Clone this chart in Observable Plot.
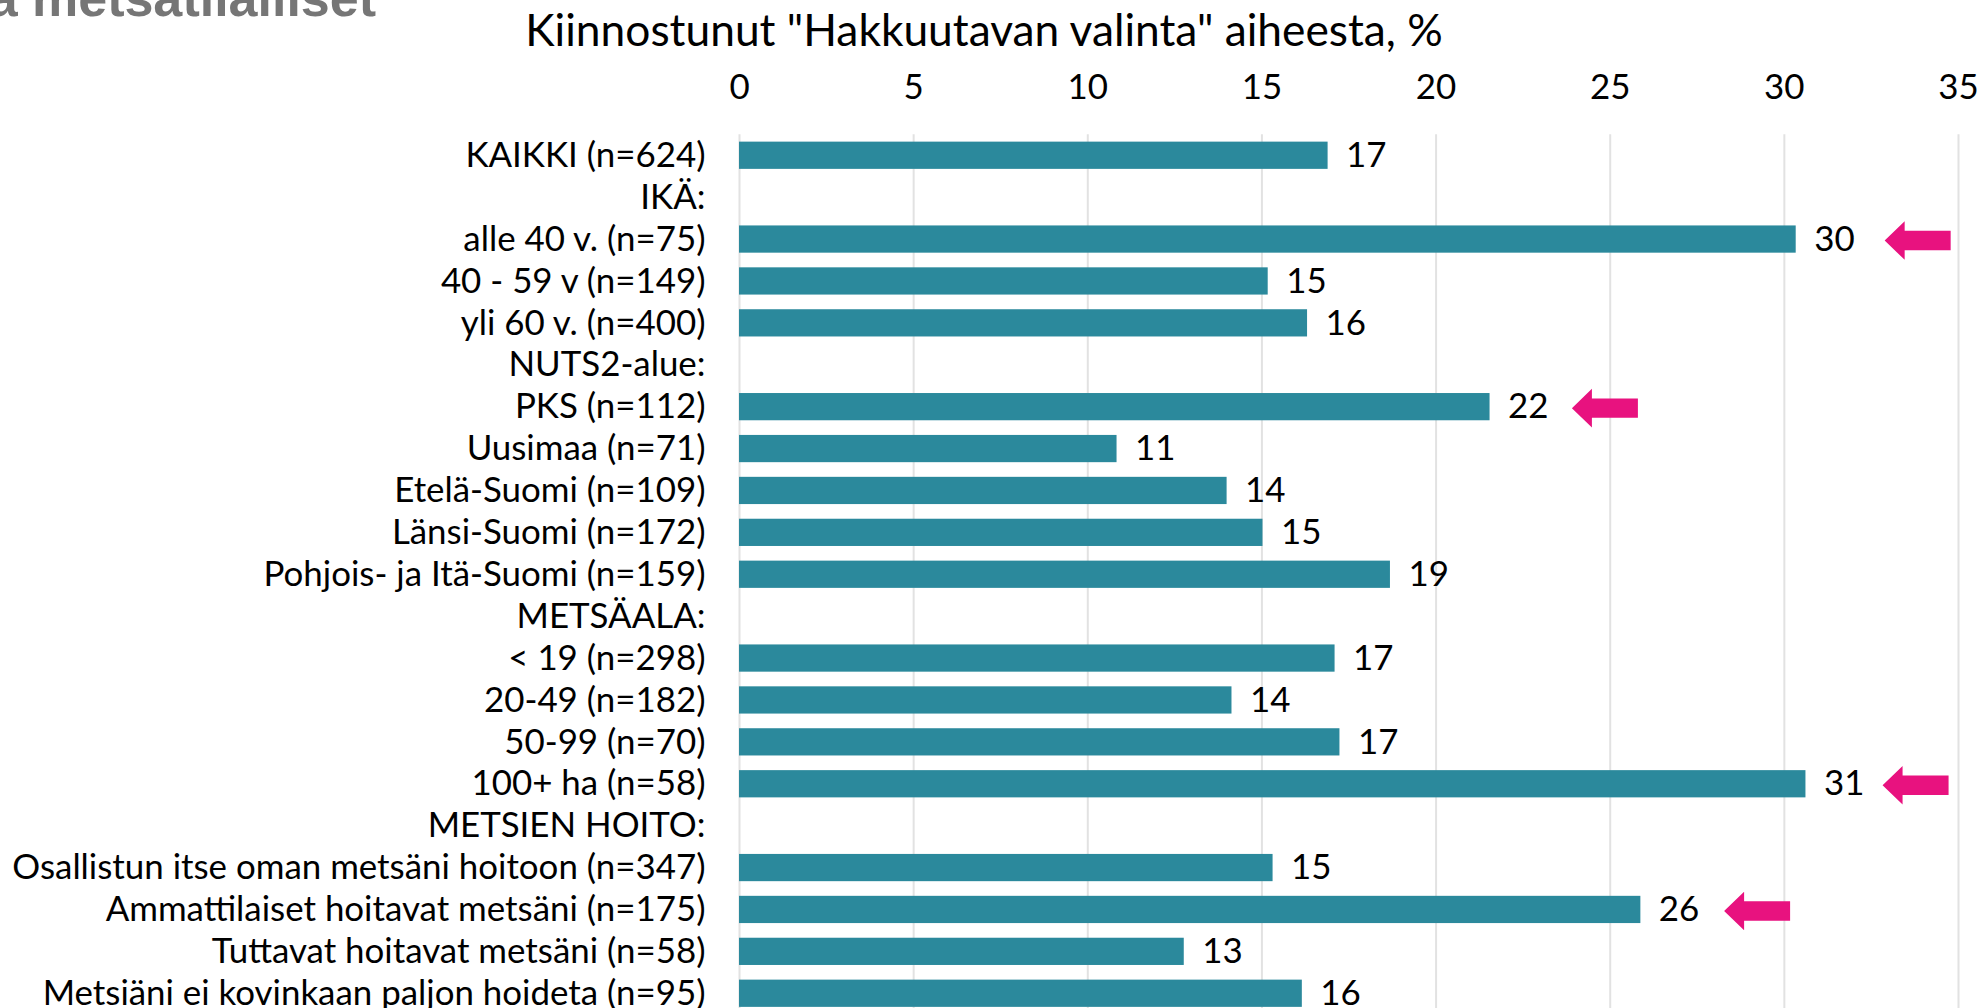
<!DOCTYPE html>
<html><head><meta charset="utf-8">
<script src="https://cdn.jsdelivr.net/npm/d3@7"></script>
<script src="https://cdn.jsdelivr.net/npm/@observablehq/plot@0.6"></script>
<style>
html,body{margin:0;padding:0;background:#fff;overflow:hidden}
#wrap{position:relative;width:1980px;height:1008px}
</style></head><body><div id="wrap"></div>
<script>
// ---- data ----
const categories = [
  "KAIKKI (n=624)",
  "IKÄ:",
  "alle 40 v. (n=75)",
  "40 - 59 v (n=149)",
  "yli 60 v. (n=400)",
  "NUTS2-alue:",
  "PKS (n=112)",
  "Uusimaa (n=71)",
  "Etelä-Suomi (n=109)",
  "Länsi-Suomi (n=172)",
  "Pohjois- ja Itä-Suomi (n=159)",
  "METSÄALA:",
  "< 19 (n=298)",
  "20-49 (n=182)",
  "50-99 (n=70)",
  "100+ ha (n=58)",
  "METSIEN HOITO:",
  "Osallistun itse oman metsäni hoitoon (n=347)",
  "Ammattilaiset hoitavat metsäni (n=175)",
  "Tuttavat hoitavat metsäni (n=58)",
  "Metsiäni ei kovinkaan paljon hoideta (n=95)"
];
const values = [16.9, null, 30.34, 15.18, 16.31, null, 21.55, 10.84, 14.0, 15.03, 18.69, null,
  17.1, 14.14, 17.24, 30.62, null, 15.32, 25.88, 12.77, 16.16];
const xTicks = [0, 5, 10, 15, 20, 25, 30, 35];
const arrowRows = ["alle 40 v. (n=75)", "PKS (n=112)", "100+ ha (n=58)", "Ammattilaiset hoitavat metsäni (n=175)"];
const arrowTips = [32.88, 23.9, 32.82, 28.27];
const axisTitle = 'Kiinnostunut "Hakkuutavan valinta" aiheesta, %';
const pageTitle = "a metsätilalliset";

// ---- styling ----
const FONT = "Lato";
const cv = document.createElement("canvas").getContext("2d");
function fit(text, family, weight, target) {
  cv.font = `${weight} 100px ${family}`;
  return 100 * target / cv.measureText(text).width;
}
const labelSize = fit("Metsiäni ei kovinkaan paljon hoideta (n=95)", FONT, 400, 663);
const titleSize = fit(axisTitle, FONT, 400, 919);

const rows = categories.map((c, i) => ({cat: c, v: values[i]}));
const bars = rows.filter(d => d.v != null);
const arrows = arrowRows.map((c, i) => ({cat: c, x: arrowTips[i]}));

const arrowSymbol = {
  draw(ctx) {
    ctx.moveTo(0, 0);
    ctx.lineTo(20, -19.3);
    ctx.lineTo(20, -9.7);
    ctx.lineTo(66, -9.7);
    ctx.lineTo(66, 9.7);
    ctx.lineTo(20, 9.7);
    ctx.lineTo(20, 19.3);
    ctx.closePath();
  }
};

const plotLeft = 739, plotRight = 1958, plotTop = 134.3;
const chart = Plot.plot({
  width: 1980, height: 1008,
  marginLeft: plotLeft, marginRight: 1980 - plotRight, marginTop: plotTop, marginBottom: 0,
  style: {fontFamily: FONT, fontSize: labelSize + "px", color: "#000", background: "#fff", overflow: "visible"},
  x: {domain: [0, 35], range: [plotLeft, plotRight]},
  y: {domain: categories, range: [plotTop, 1014.2], paddingInner: 0.35, paddingOuter: 0.175, round: false},
  marks: [
    Plot.ruleX(xTicks, {stroke: "#e2e2e2", strokeWidth: 2}),
    Plot.barX(bars, {x: "v", y: "cat", fill: "#2b899c"}),
    Plot.text(bars, {x: "v", y: "cat", text: d => d3.format(".0f")(d.v), dx: 18, textAnchor: "start", lineAnchor: "middle", fill: "#000"}),
    Plot.dot(arrows, {x: "x", y: "cat", symbol: arrowSymbol, fill: "#e8127f", stroke: "none", dy: 1}),
    Plot.axisX({ticks: xTicks, anchor: "top", tickSize: 0, tickPadding: 35.5, label: null, fontSize: labelSize, tickFormat: d => String(d)}),
    Plot.axisY({anchor: "left", tickSize: 0, tickPadding: 34, label: null, fontSize: labelSize}),
    Plot.text([axisTitle], {frameAnchor: "top", dx: 983.5 - (plotLeft + plotRight) / 2, dy: 31 - plotTop, lineAnchor: "middle", fontSize: titleSize, fill: "#000"}),
    Plot.text([pageTitle], {frameAnchor: "top-left", dx: -11.8 - plotLeft, dy: 15 - plotTop, lineAnchor: "bottom", textAnchor: "start", fontSize: 52, fontWeight: "bold", fontFamily: "Liberation Sans", fill: "#767676"})
  ]
});
document.getElementById("wrap").appendChild(chart);
</script>
</body></html>
